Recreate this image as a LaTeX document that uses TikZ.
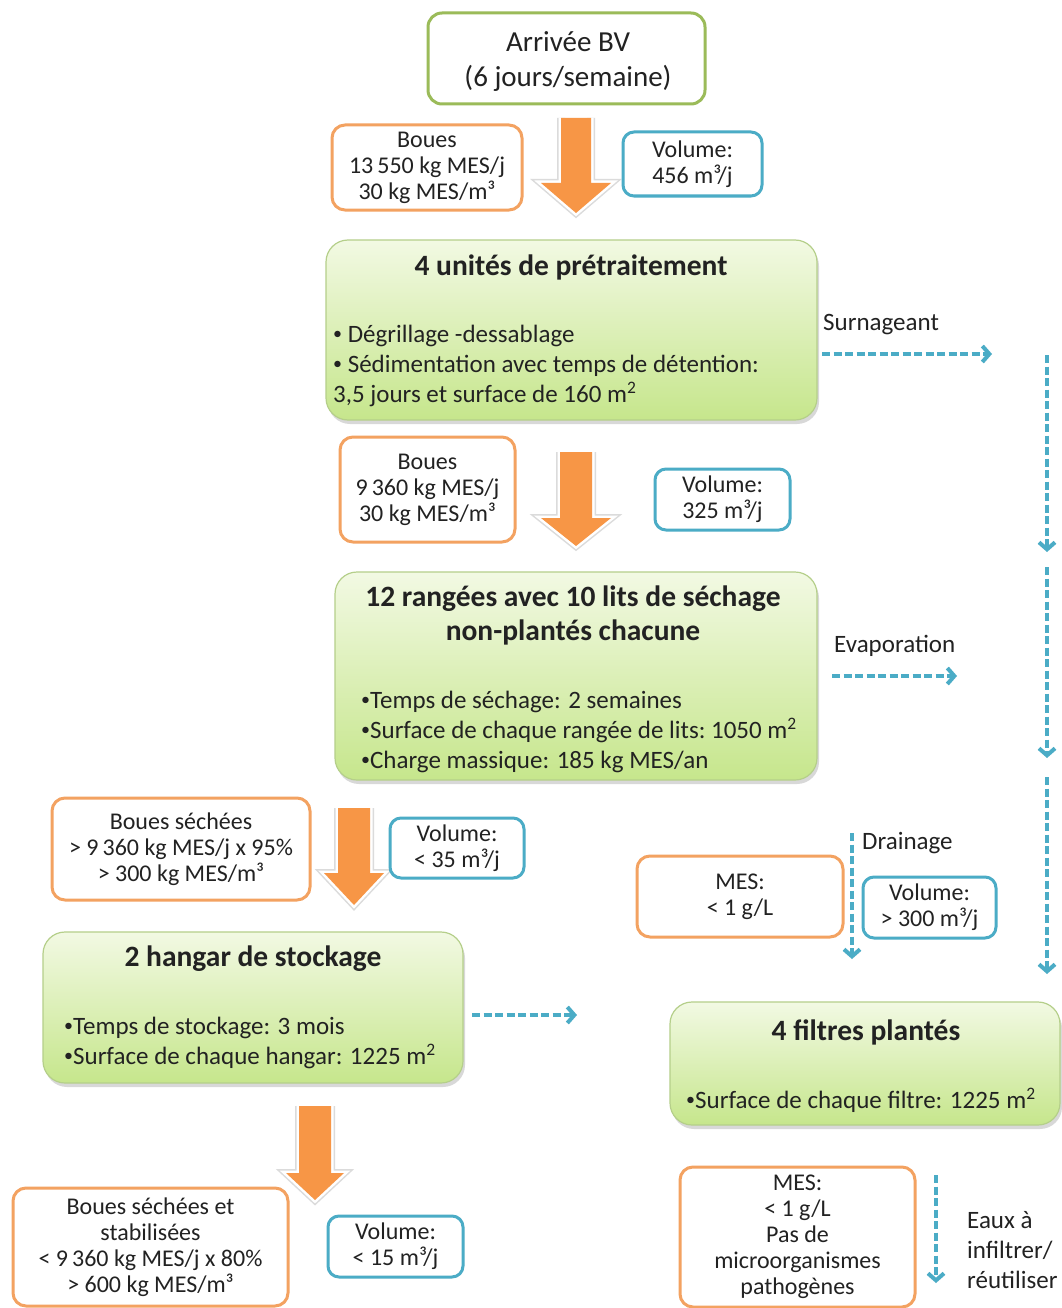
\documentclass[tikz,border=0pt]{standalone}
\usepackage{fontspec}
\setmainfont{Carlito}
\usetikzlibrary{arrows.meta,shadows}
\definecolor{org}{HTML}{F79646}
\definecolor{orgline}{HTML}{F3A261}
\definecolor{blu}{HTML}{4BACC6}
\definecolor{grn}{HTML}{9BBB59}
\definecolor{gborder}{HTML}{B5CF8A}
\definecolor{gtop}{HTML}{F2F9E3}
\definecolor{gbot}{HTML}{C6E68C}
\definecolor{txt}{HTML}{222222}
\newcommand\fsz[2]{\fontsize{#1}{#2}\selectfont}
\newcommand\bul{\raisebox{0.12em}{\fsz{18}{18}•}}
\newcommand\bigarr[6]{%
  \draw[gray!28, line width=8pt, line join=miter] ({#1+#5},#2) -- ({#1+#5},#3) -- ({#1+#6},#3) -- (#1,#4) -- ({#1-#6},#3) -- ({#1-#5},#3) -- ({#1-#5},#2);
  \draw[white, line width=5pt, line join=miter] ({#1+#5},#2) -- ({#1+#5},#3) -- ({#1+#6},#3) -- (#1,#4) -- ({#1-#6},#3) -- ({#1-#5},#3) -- ({#1-#5},#2);
  \fill[org] ({#1-#5},#2) -- ({#1+#5},#2) -- ({#1+#5},#3) -- ({#1+#6},#3) -- (#1,#4) -- ({#1-#6},#3) -- ({#1-#5},#3) -- cycle;}
\tikzset{
  obox/.style={draw=orgline, line width=3pt, rounded corners=13pt, fill=white, align=center, text=txt, font=\fsz{24}{26}, inner sep=0pt},
  bbox/.style={draw=blu, line width=3pt, rounded corners=11pt, fill=white, align=center, text=txt, font=\fsz{24}{26}, inner sep=0pt},
  gbox/.style={draw=gborder, line width=1.2pt, rounded corners=22pt, top color=gtop, bottom color=gbot, drop shadow={opacity=0.3, shadow xshift=2pt, shadow yshift=-4pt}, inner sep=0pt},
  gtitle/.style={font=\bfseries\fsz{29.5}{34}, text=txt, align=center, inner sep=0pt},
  gbody/.style={font=\fsz{25}{30}, text=txt, align=left, inner sep=0pt, anchor=west},
  lbl/.style={font=\fsz{25}{30}, text=txt, align=left, inner sep=0pt, anchor=west},
  flow/.style={draw=blu, line width=4pt, dash pattern=on 8pt off 3.5pt, -{Straight Barb[length=7pt,width=16pt]}},
}
\begin{document}
\begin{tikzpicture}[x=1pt,y=-1pt]
\useasboundingbox (0,0) rectangle (1061,1308);
\fill[white] (0,0) rectangle (1061,1308);

% top box
\node[draw=grn, line width=3pt, rounded corners=14pt, fill=white, minimum width=277pt, minimum height=91pt, inner sep=0pt] (arr) at (566.5,58.5) {};
\node[align=center, text=txt, font=\fsz{29}{35}, inner sep=0pt] (arrt) at (568,62) {Arrivée BV\\(6 jours/semaine)};

% arrows
\bigarr{576}{118}{183}{213}{15}{35}
\bigarr{576}{452}{518}{546}{16}{35}
\bigarr{354}{808}{873}{905}{16}{30}
\bigarr{315}{1106}{1173}{1200}{16}{29}

\node[obox, minimum width=190pt, minimum height=85pt] (b1) at (427,167.5) {Boues\\13\,550 kg MES/j\\30 kg MES/m³};
\node[bbox, minimum width=139pt, minimum height=64pt] (v1) at (692.5,164) {Volume:\\456 m³/j};

% pretreatment
\node[gbox, minimum width=491pt, minimum height=180pt] (pre) at (571.5,330) {};
\node[gtitle] (pret) at (571,267) {4 unités de prétraitement};
\node[gbody] (preb) at (333,366) {\bul\ Dégrillage -dessablage\\\bul\ Sédimentation avec temps de détention:\\3,5 jours et surface de 160 m\textsuperscript{2}};

\node[lbl] (surn) at (823,325) {Surnageant};
\coordinate (s1a) at (822,354);
\coordinate (s1b) at (992,354);
\draw[flow] (s1a) -- (s1b);

\coordinate (r1a) at (1047,355);
\coordinate (r1b) at (1047,552);
\coordinate (r2a) at (1047,567);
\coordinate (r2b) at (1047,758);
\coordinate (r3a) at (1047,777);
\coordinate (r3b) at (1047,974);
\draw[flow] (r1a) -- (r1b);
\draw[flow] (r2a) -- (r2b);
\draw[flow] (r3a) -- (r3b);

\node[obox, minimum width=175pt, minimum height=105pt] (b2) at (427.5,489.5) {Boues\\9\,360 kg MES/j\\30 kg MES/m³};
\node[bbox, minimum width=135pt, minimum height=61pt] (v2) at (722.5,499.5) {Volume:\\325 m³/j};

% drying beds
\node[gbox, minimum width=482pt, minimum height=208pt] (lits) at (576,676) {};
\node[gtitle] (litst) at (573,615) {12 rangées avec 10 lits de séchage\\non-plantés chacune};
\node[gbody] (litsb) at (361,732) {\bul Temps de séchage: 2 semaines\\\bul Surface de chaque rangée de lits:\ 1050 m\textsuperscript{2}\\\bul Charge massique: 185 kg MES/an};

\node[lbl] (evap) at (834,646) {Evaporation};
\coordinate (e1a) at (832,676);
\coordinate (e1b) at (957,676);
\draw[flow] (e1a) -- (e1b);

\node[obox, minimum width=258pt, minimum height=102pt] (b3) at (181,849) {Boues séchées\\> 9\,360 kg MES/j x 95\%\\> 300 kg MES/m³};
\node[bbox, minimum width=134pt, minimum height=60pt] (v3) at (457,848) {Volume:\\< 35 m³/j};

% storage
\node[gbox, minimum width=420pt, minimum height=151pt] (hang) at (253,1007.5) {};
\node[gtitle] (hangt) at (253,959) {2 hangar de stockage};
\node[gbody] (hangb) at (64,1043) {\bul Temps de stockage: 3 mois\\\bul Surface de chaque hangar: 1225 m\textsuperscript{2}};
\coordinate (h1a) at (472,1015);
\coordinate (h1b) at (577,1015);
\draw[flow] (h1a) -- (h1b);

% drainage
\node[lbl] (drain) at (862,843) {Drainage};
\coordinate (d1a) at (852,833);
\coordinate (d1b) at (852,959);
\draw[flow] (d1a) -- (d1b);
\node[obox, minimum width=206pt, minimum height=81pt] (m1) at (740,896.5) {MES:\\< 1 g/L};
\node[bbox, minimum width=133pt, minimum height=61pt] (v4) at (929.5,907.5) {Volume:\\> 300 m³/j};

% filters
\node[gbox, minimum width=390pt, minimum height=123pt] (filt) at (865,1063.5) {};
\node[gtitle] (filtt) at (866,1032) {4 filtres plantés};
\node[gbody] (filtb) at (686,1100) {\bul Surface de chaque filtre: 1225 m\textsuperscript{2}};

\node[obox, minimum width=275pt, minimum height=118pt] (b5) at (150.5,1247) {Boues séchées et\\stabilisées\\< 9\,360 kg MES/j x 80\%\\> 600 kg MES/m³};
\node[bbox, minimum width=135pt, minimum height=61pt] (v5) at (395.5,1246.5) {Volume:\\< 15 m³/j};

\node[obox, minimum width=235pt, minimum height=140pt] (m2) at (797.5,1237) {MES:\\< 1 g/L\\Pas de\\microorganismes\\pathogènes};
\coordinate (f1a) at (936,1175);
\coordinate (f1b) at (936,1283);
\draw[flow] (f1a) -- (f1b);
\node[lbl] (eaux) at (967,1250) {Eaux à\\infiltrer/\\réutiliser};
\end{tikzpicture}
\end{document}
